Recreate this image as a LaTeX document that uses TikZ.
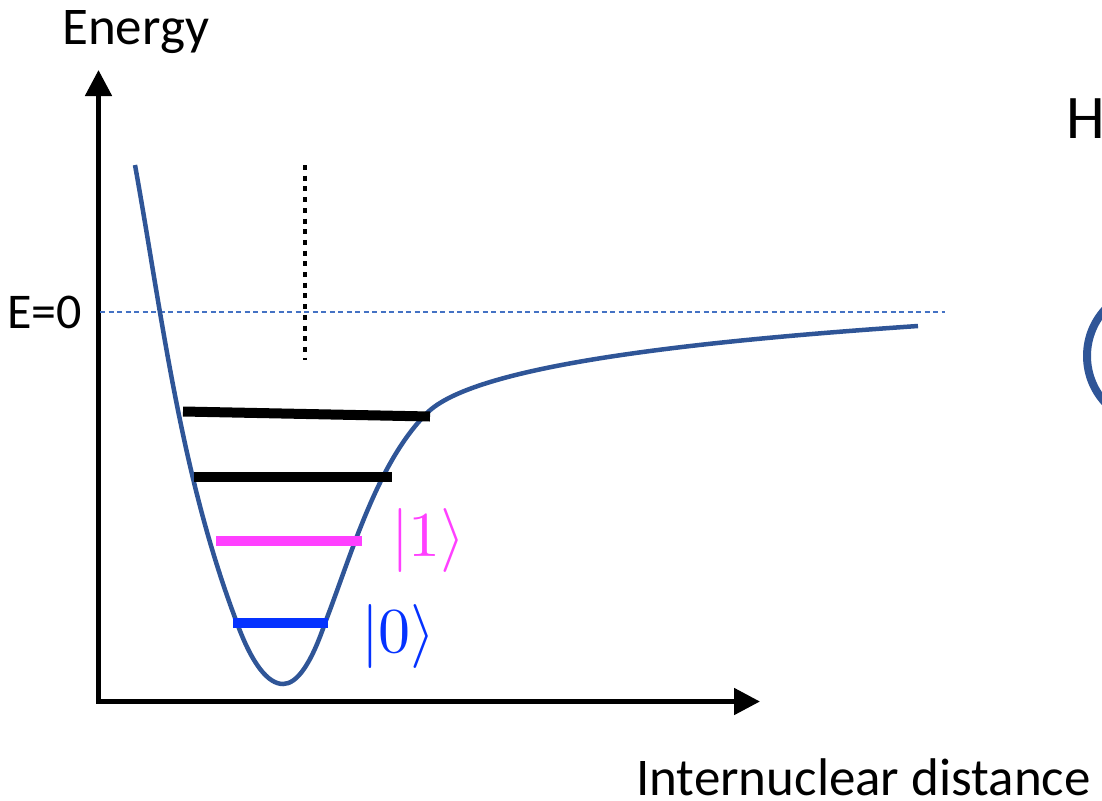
\documentclass[tikz,border=0pt]{standalone}
\usepackage{fontspec}
\setmainfont{Carlito}
\usetikzlibrary{arrows.meta}
\definecolor{curveblue}{RGB}{47,85,151}
\definecolor{zeroblue}{RGB}{68,114,196}
\definecolor{ketpink}{RGB}{255,64,255}
\definecolor{ketblue}{RGB}{5,50,255}

\begin{document}
\begin{tikzpicture}[x=1pt,y=-1pt,
    axisline/.style={line width=5pt,line join=miter,{Triangle[width=26pt,length=26pt]}-{Triangle[width=26pt,length=26pt]}},
    vlevel/.style={line width=10pt},
    lbl/.style={font=\fontsize{53}{60}\selectfont,anchor=base west,inner sep=0pt},
    ket/.style={font=\fontsize{10}{12}\selectfont,anchor=base west,inner sep=0pt}]
    \useasboundingbox (0,0) rectangle (1102,800);
    \clip (0,0) rectangle (1102,800);
    \coordinate (ytip) at (98.5,70);
    \coordinate (xtip) at (760,701.5);
    \coordinate (zleft) at (100,312);
    \coordinate (zright) at (945,312);
    \coordinate (dtop) at (305,165);
    \coordinate (dbot) at (305,360);
    \draw[axisline] (ytip) |- (xtip);
    \draw[zeroblue,line width=1.3pt,dash pattern=on 5pt off 3.5pt] (zleft) -- (zright);
    \draw[line width=4.5pt,dash pattern=on 5pt off 5.7pt] (dtop) -- (dbot);
    \draw[curveblue,line width=4.5pt] (135,165) .. controls (162,315) and (180,473) .. (237,623)
      .. controls (252,664) and (268,684) .. (283,684)
      .. controls (297,684) and (311,664) .. (325,623)
      .. controls (352,553) and (377,463) .. (427,413)
      .. controls (472,368) and (668,343) .. (918,326);
    \draw[vlevel] (183,411.5) -- (430,416.5);
    \draw[vlevel] (194,477) -- (392,477);
    \draw[vlevel,ketpink] (216,540.5) -- (362,540.5);
    \draw[vlevel,ketblue] (233,623) -- (328,623);
    \node[ket,text=ketpink] (ket1) at (391,556) {\scalebox{6.4}{$|1\rangle$}};
    \node[ket,text=ketblue] (ket0) at (361,652) {\scalebox{6.4}{$|0\rangle$}};
    \node[lbl] (ylabel) at (62,45) {Energy};
    \node[lbl,font=\fontsize{50}{55}\selectfont] (zlabel) at (7,328) {E=0};
    \node[lbl] (xlabel) at (636,795) {Internuclear distance};
    \node[lbl,font=\fontsize{62}{70}\selectfont] (hlabel) at (1066,138) {H};
    \node[draw=curveblue,line width=8pt,circle,minimum size=138pt,inner sep=0pt] (atom) at (1156,356) {};
\end{tikzpicture}
\end{document}
